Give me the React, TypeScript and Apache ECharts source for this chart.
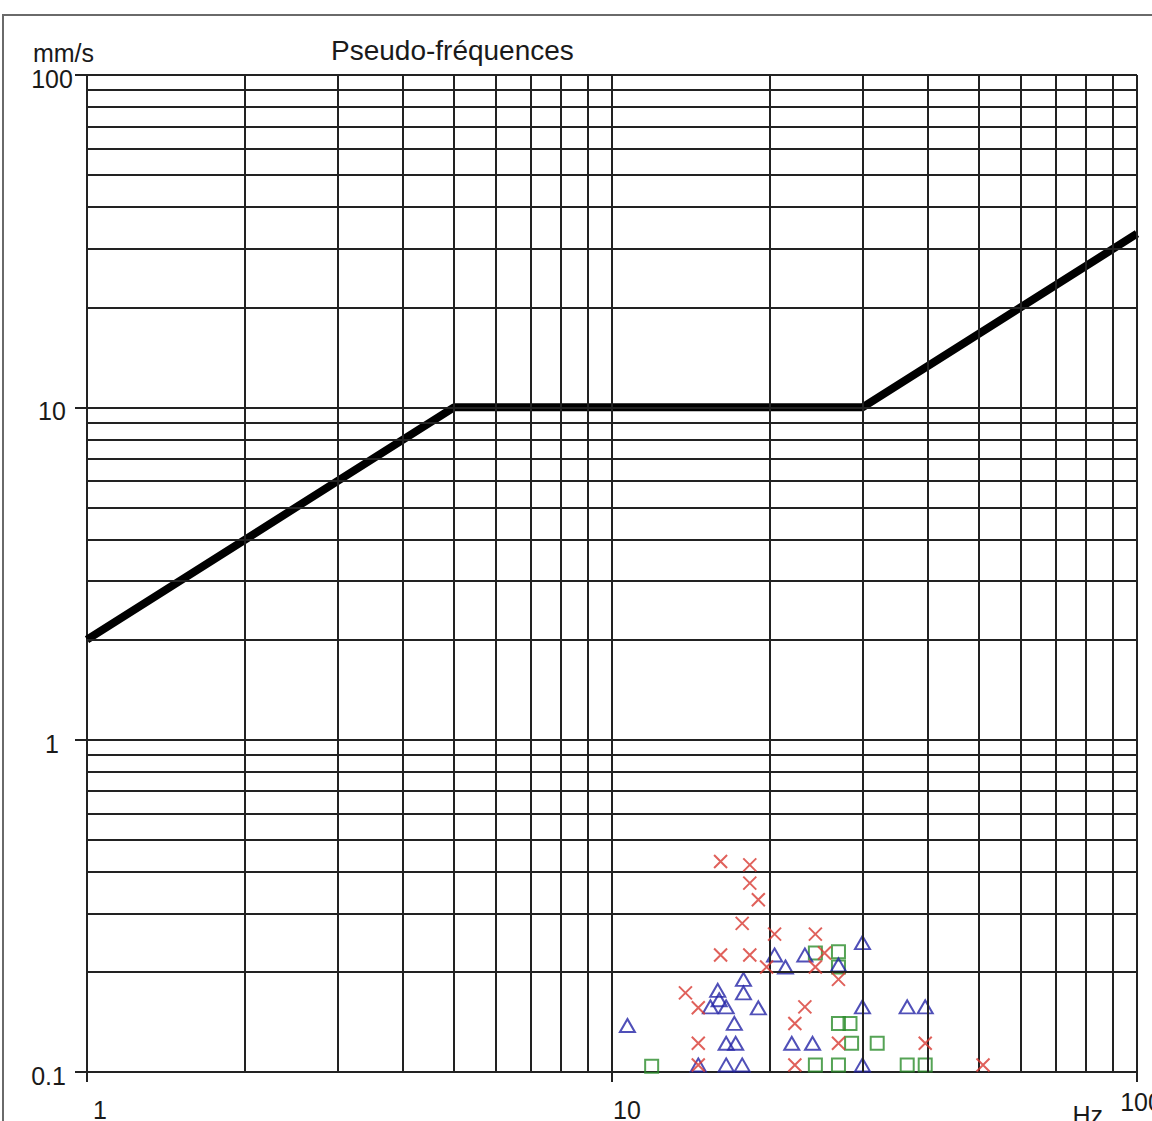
import React, { useEffect, useRef } from 'react';
import * as echarts from 'echarts';

// Limit curve (Hz, mm/s)
const limitFreq: number[] = [1, 5, 30, 100];
const limitSpeed: number[] = [2, 10, 10, 33.3];

// Measured points [Hz, mm/s]
const redCrosses: [number, number][] = [
  [16.1, 0.43], [18.3, 0.42], [18.3, 0.37], [19.0, 0.33], [17.7, 0.28],
  [16.1, 0.225], [18.3, 0.225], [20.4, 0.26], [24.4, 0.26], [19.7, 0.207],
  [24.4, 0.207], [25.4, 0.228], [27.0, 0.19], [13.8, 0.173], [14.6, 0.156],
  [23.3, 0.157], [22.3, 0.14], [14.6, 0.122], [27.0, 0.122], [39.5, 0.122],
  [14.6, 0.105], [22.3, 0.105], [50.9, 0.105],
];
const blueTriangles: [number, number][] = [
  [10.7, 0.138], [15.9, 0.176], [16.0, 0.165], [15.4, 0.157], [16.5, 0.157],
  [17.8, 0.19], [17.8, 0.173], [19.0, 0.156], [17.1, 0.14], [16.5, 0.122],
  [17.2, 0.122], [16.5, 0.105], [17.7, 0.105], [14.6, 0.105], [20.4, 0.225],
  [21.4, 0.207], [23.3, 0.225], [27.0, 0.21], [30.0, 0.245], [30.0, 0.157],
  [36.5, 0.157], [39.5, 0.157], [22.0, 0.122], [24.1, 0.122], [30.0, 0.105],
];
const greenSquares: [number, number][] = [
  [11.9, 0.104], [24.4, 0.228], [27.0, 0.23], [27.0, 0.207], [27.0, 0.14],
  [28.4, 0.14], [28.6, 0.122], [32.0, 0.122], [24.4, 0.105], [27.0, 0.105],
  [36.5, 0.105], [39.5, 0.105],
];

// Grid lines
const xGridValues: number[] = [2, 3, 4, 5, 6, 7, 8, 9, 10, 20, 30, 40, 50, 60, 70, 80, 90, 100];
const yGridValues: number[] = [
  0.2, 0.3, 0.4, 0.5, 0.6, 0.7, 0.8, 0.9, 1,
  2, 3, 4, 5, 6, 7, 8, 9, 10,
  20, 30, 40, 50, 60, 70, 80, 90, 100,
];
const xTickLabels: string[] = ['1', '10', '100'];
const yTickLabels: string[] = ['0.1', '1', '10', '100'];

const FONT = '"Liberation Sans", Arial, Helvetica, sans-serif';
const TXT = '#1a1a1a';

export default function App() {
  const ref = useRef<HTMLDivElement>(null);
  useEffect(() => {
    if (!ref.current) return;
    const chart = echarts.init(ref.current, undefined, { renderer: 'svg' });
    const labelBase = { fontSize: 25, fontFamily: FONT, color: TXT };
    const gridLineStyle = { color: '#222', width: 2, type: 'solid' as const };
    chart.setOption({
      animation: false,
      backgroundColor: '#fff',
      title: {
        text: 'Pseudo-fréquences',
        left: 331,
        top: 36,
        padding: 0,
        textStyle: { fontSize: 28, fontWeight: 'normal', fontFamily: FONT, color: TXT },
      },
      graphic: [
        {
          type: 'rect',
          shape: { x: 3, y: 15, width: 1300, height: 1300 },
          style: { fill: 'none', stroke: '#6a6a6a', lineWidth: 2 },
          silent: true,
        },
      ],
      grid: {
        left: 87, top: 75, width: 1050, height: 997,
        containLabel: false, outerBoundsMode: 'none',
      },
      xAxis: {
        type: 'log',
        logBase: 10,
        min: 1,
        max: 100,
        name: 'Hz',
        nameLocation: 'end',
        nameGap: 0,
        nameTextStyle: {
          fontSize: 25, fontFamily: FONT, color: TXT,
          align: 'right', verticalAlign: 'top', padding: [30, 34, 0, 0],
        },
        axisLine: { show: true, lineStyle: { color: '#222', width: 2 } },
        axisTick: { show: true, length: 10, lineStyle: { color: '#222', width: 2 } },
        splitLine: { show: false },
        minorTick: { show: false },
        axisLabel: {
          margin: 17,
          ...labelBase,
          formatter: (v: number) => {
            const i = Math.round(Math.log10(v));
            const t = xTickLabels[i] ?? '';
            return i === 0 ? `{a|${t}}` : i === 1 ? `{b|${t}}` : `{c|${t}}`;
          },
          rich: {
            a: { ...labelBase, padding: [8, 0, 0, 26] },
            b: { ...labelBase, padding: [8, 0, 0, 30] },
            c: { ...labelBase, padding: [0, 0, 0, 8] },
          },
        },
      },
      yAxis: {
        type: 'log',
        logBase: 10,
        min: 0.1,
        max: 100,
        name: 'mm/s',
        nameLocation: 'end',
        nameGap: 10,
        nameTextStyle: {
          fontSize: 25, fontFamily: FONT, color: TXT,
          align: 'center', verticalAlign: 'bottom', padding: [0, 47, 0, 0],
        },
        axisLine: { show: true, lineStyle: { color: '#222', width: 2 } },
        axisTick: { show: true, length: 12, lineStyle: { color: '#222', width: 2 } },
        splitLine: { show: false },
        minorTick: { show: false },
        axisLabel: {
          margin: 35,
          align: 'center',
          ...labelBase,
          formatter: (v: number) => {
            const i = Math.round(Math.log10(v)) + 1;
            const t = yTickLabels[i] ?? '';
            return i === 0 ? `{z|${t}}` : `{n|${t}}`;
          },
          rich: {
            z: { ...labelBase, padding: [7, 7, 0, 0] },
            n: { ...labelBase, padding: [8, 0, 0, 0] },
          },
        },
      },
      series: [
        {
          type: 'line',
          z: 1,
          data: [[1, 0.1]],
          symbol: 'none',
          lineStyle: { width: 0, opacity: 0 },
          silent: true,
          markLine: {
            silent: true,
            symbol: ['none', 'none'],
            label: { show: false },
            lineStyle: gridLineStyle,
            emphasis: { disabled: true },
            data: [
              ...xGridValues.map((v) => ({ xAxis: v })),
              ...yGridValues.map((v) => ({ yAxis: v })),
            ],
          },
        },
        {
          type: 'line',
          z: 3,
          data: limitFreq.map((f, i) => [f, limitSpeed[i]]),
          symbol: 'none',
          lineStyle: { color: '#000', width: 8 },
          silent: true,
        },
        {
          type: 'scatter',
          z: 4,
          data: greenSquares,
          symbol: 'rect',
          symbolSize: [13, 13],
          itemStyle: { color: 'rgba(0,0,0,0)', borderColor: '#2a8c2a', borderWidth: 2 },
          silent: true,
        },
        {
          type: 'scatter',
          z: 4,
          data: blueTriangles,
          symbol: 'triangle',
          symbolSize: [15, 13],
          itemStyle: { color: 'rgba(0,0,0,0)', borderColor: '#2424a6', borderWidth: 2 },
          silent: true,
        },
        {
          type: 'scatter',
          z: 5,
          data: redCrosses,
          symbol: 'path://M0,0L10,10M10,0L0,10',
          symbolSize: 13,
          itemStyle: { color: 'rgba(0,0,0,0)', borderColor: '#d83a32', borderWidth: 2 },
          silent: true,
        },
      ],
    });
    return () => chart.dispose();
  }, []);
  return (
    <div
      ref={ref}
      style={{ position: 'absolute', left: 0, top: 0, width: 1152, height: 1121 }}
    />
  );
}
